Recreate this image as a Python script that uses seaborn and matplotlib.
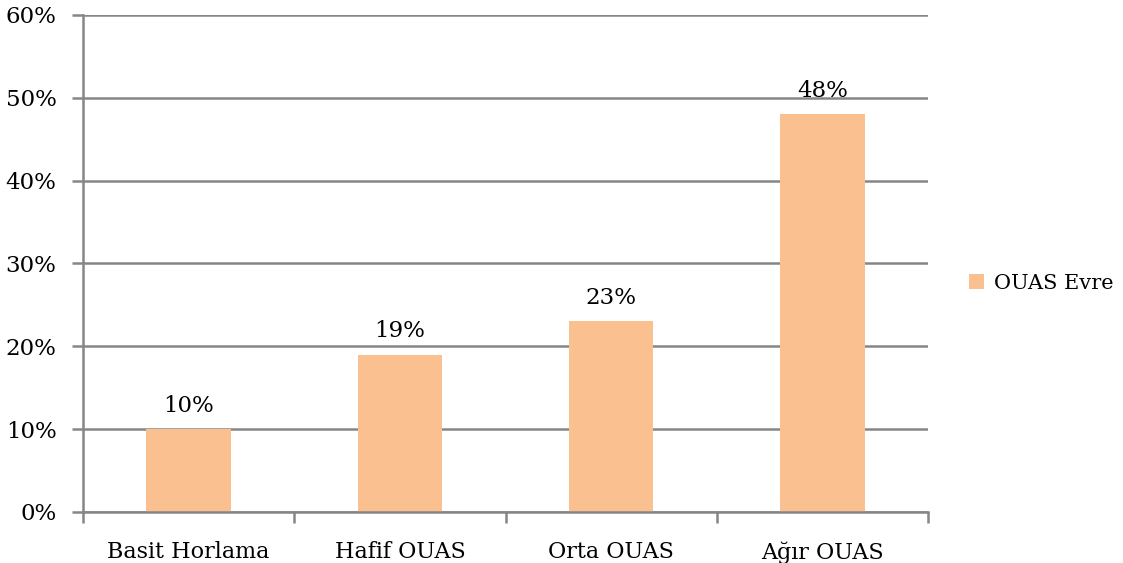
import matplotlib
matplotlib.use("Agg")
import matplotlib.pyplot as plt
import seaborn as sns
import pandas as pd
from matplotlib.ticker import PercentFormatter, FixedLocator

# values
categories = ["Basit Horlama", "Hafif OUAS", "Orta OUAS", "Ağır OUAS"]
values = [10, 19, 23, 48]
series_name = "OUAS Evre"

df = pd.DataFrame({"cat": categories, "val": values, "series": series_name})

sns.set_theme(style="white")
plt.rcParams["font.family"] = ["DejaVu Serif", "DejaVu Sans"]
plt.rcParams["text.color"] = "black"

grid_col = "#868686"
bar_col = "#FAC090"

fig = plt.figure(figsize=(11.23, 5.63), dpi=100)
ax = fig.add_axes([0.0739, 0.0906, 0.7525, 0.8828])

sns.barplot(data=df, x="cat", y="val", hue="series", palette=[bar_col],
            width=0.4, saturation=1, edgecolor="none", linewidth=0,
            ax=ax, legend=True)

ax.set_ylim(0, 60)
ax.set_xlim(-0.5, len(categories) - 0.5)
ax.yaxis.set_major_locator(FixedLocator(range(0, 61, 10)))
ax.yaxis.set_major_formatter(PercentFormatter(decimals=0))
ax.grid(axis="y", color=grid_col, linewidth=1.8)
ax.set_axisbelow(True)

# category boundary ticks, labels centred between them
ax.set_xticks([i - 0.5 for i in range(len(categories) + 1)])
ax.set_xticklabels([])
ax.set_xticks(range(len(categories)), minor=True)
ax.set_xticklabels(categories, minor=True)
ax.tick_params(axis="x", which="major", length=8, width=1.8, color=grid_col, direction="out", bottom=True)
ax.tick_params(axis="x", which="minor", length=0, pad=21, labelsize=16, labelcolor="black")
ax.tick_params(axis="y", length=8, width=1.8, color=grid_col, direction="out", left=True,
               labelsize=16.5, labelcolor="black", pad=11)

for s in ["top", "right"]:
    ax.spines[s].set_visible(False)
for s in ["left", "bottom"]:
    ax.spines[s].set_color(grid_col)
    ax.spines[s].set_linewidth(1.8)

ax.set_xlabel("")
ax.set_ylabel("")

for c in ax.containers:
    ax.bar_label(c, labels=[f"{v}%" for v in values], padding=9, fontsize=16.5, color="black")

handles, labels = ax.get_legend_handles_labels()
ax.get_legend().remove()
fig.legend(handles, labels, loc="center left", bbox_to_anchor=(0.846, 0.497),
           frameon=False, fontsize=15, handlelength=0.75, handleheight=0.75,
           handletextpad=0.45, labelcolor="black")

fig.savefig("out.png", dpi=100)
